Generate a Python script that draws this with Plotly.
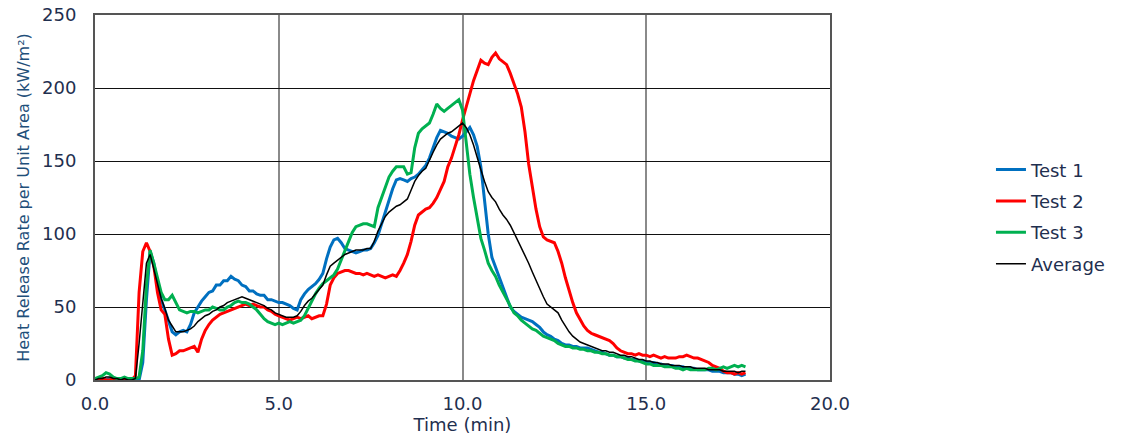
import plotly.graph_objects as go

test1 = [0,1,1,0,1,0,1,0,0,1,
         0,0,0,12,55,88,80,66,55,48,
         40,33,31,33,34,33,38,46,50,54,
         57,60,61,65,65,68,68,71,69,68,
         65,64,61,61,59,58,58,55,55,54,
         53,53,52,51,49,48,55,59,62,64,
         66,69,73,83,91,96,97,94,90,89,
         88,87,88,89,89,90,94,99,107,115,
         122,131,137,138,137,136,138,139,141,144,
         147,152,159,166,171,170,169,167,166,165,
         167,170,173,168,160,146,125,100,84,77,
         70,64,56,50,47,45,43,42,41,40,
         38,36,33,31,30,28,27,25,24,24,
         23,23,22,22,22,21,20,19,19,18,
         17,17,16,16,15,15,14,14,13,13,
         12,12,12,11,11,10,10,10,9,9,
         9,8,8,8,7,7,7,7,6,6,
         6,5,5,5,4,4,3,4]

test2 = [0,0,1,0,0,1,0,0,1,0,
         0,3,60,88,94,88,78,60,48,45,
         28,17,18,20,20,21,22,23,19,28,
         34,38,41,43,45,46,47,48,49,50,
         51,52,51,52,51,50,50,48,47,45,
         44,43,42,41,42,43,42,43,44,42,
         43,44,44,52,65,70,73,74,75,75,
         74,73,73,72,73,72,71,72,71,70,
         71,72,71,75,80,86,95,106,113,115,
         117,118,121,125,131,136,146,152,160,168,
         178,188,196,205,212,219,217,216,221,224,
         220,218,216,210,203,196,187,170,148,132,
         117,105,98,96,95,94,88,80,70,61,
         53,46,41,37,34,32,31,30,29,28,
         27,25,22,20,19,18,18,17,18,17,
         17,16,17,16,15,16,15,15,15,16,
         16,17,16,15,15,14,13,12,10,9,
         8,6,5,5,4,5,4,5]

test3 = [1,2,3,5,4,2,1,1,2,1,
         1,1,2,20,65,89,80,70,60,55,
         55,58,53,48,47,46,47,47,46,47,
         48,48,50,49,48,48,50,51,53,54,
         53,53,52,50,48,45,42,40,39,38,
         39,38,39,40,39,40,41,44,49,55,
         59,63,66,68,70,72,76,82,88,95,
         101,105,106,107,107,106,105,118,125,132,
         139,143,146,146,146,141,142,159,169,172,
         174,176,182,189,186,184,186,188,190,192,
         185,162,141,125,110,97,89,80,75,71,
         65,60,55,50,46,44,41,39,37,35,
         34,32,30,29,28,27,25,24,23,23,
         22,22,21,21,20,20,19,19,18,18,
         17,17,16,16,15,14,14,13,13,12,
         11,11,10,10,10,9,9,9,8,8,
         7,8,7,7,7,7,7,8,8,7,
         8,9,8,9,10,9,10,9]

average = [0,1,1,2,2,1,1,0,1,0,
           0,1,25,55,80,86,76,66,56,49,
           41,37,33,33,33,34,35,37,40,42,
           44,45,47,48,50,51,53,54,55,56,
           57,56,55,54,53,52,51,49,48,46,
           45,44,43,43,43,44,47,51,54,56,
           59,62,65,72,78,80,82,84,86,87,
           88,89,89,89,90,90,95,102,107,112,
           115,117,119,120,122,124,130,136,140,143,
           145,151,156,161,165,167,169,170,172,174,
           176,173,168,161,152,144,136,129,125,122,
           117,113,110,106,101,96,91,86,80,74,
           68,62,57,52,50,48,46,41,37,33,
           30,28,26,25,24,23,22,21,20,20,
           19,19,18,17,17,16,16,15,14,14,
           13,13,12,12,11,11,11,10,10,10,
           9,9,9,8,8,8,8,7,7,7,
           7,6,6,6,6,5,6,6]

time_min = [round(i * 0.1, 1) for i in range(len(test1))]

series = [("Test 1", test1, "#0070C0", 3),
          ("Test 2", test2, "#FF0000", 3),
          ("Test 3", test3, "#00B050", 3),
          ("Average", average, "#000000", 1.5)]

TEXT = "#1f2f4f"
FONT = "DejaVu Sans, Liberation Sans, sans-serif"

fig = go.Figure()
for name, vals, col, w in series:
    fig.add_trace(go.Scatter(x=time_min, y=vals, mode="lines", name=name,
                             legendgroup=name,
                             line=dict(color=col, width=w)))

fig.update_layout(
    width=1131, height=439,
    margin=dict(l=95, r=301, t=15, b=59, autoexpand=False),
    paper_bgcolor="white", plot_bgcolor="white",
    font=dict(family=FONT, color=TEXT, size=18),
    showlegend=True,
    legend=dict(x=1.219, y=0.447, xanchor="left", yanchor="middle",
                font=dict(size=18, color=TEXT, family=FONT),
                tracegroupgap=5, bgcolor="rgba(0,0,0,0)"),
)
fig.update_xaxes(range=[0, 20], dtick=5, tick0=0, tickformat=".1f",
                 automargin=False,
                 showgrid=True, gridcolor="#8a8a8a", gridwidth=1.5,
                 zeroline=False, showline=True, mirror=True,
                 linecolor="#555555", linewidth=2,
                 ticks="", ticklabelstandoff=6,
                 tickfont=dict(size=18, color=TEXT),
                 title=dict(text="Time (min)", font=dict(size=18, color=TEXT), standoff=3))
fig.update_yaxes(range=[0, 250], dtick=50, tick0=0,
                 automargin=False,
                 showgrid=True, gridcolor="#111111", gridwidth=1,
                 zeroline=False, showline=True, mirror=True,
                 linecolor="#555555", linewidth=2,
                 ticks="", ticklabelstandoff=13,
                 tickfont=dict(size=18, color=TEXT),
                 title=dict(text="Heat Release Rate per Unit Area (kW/m²)",
                            font=dict(size=16, color="#1f4f7a"), standoff=8))

fig.write_html("out.html")
